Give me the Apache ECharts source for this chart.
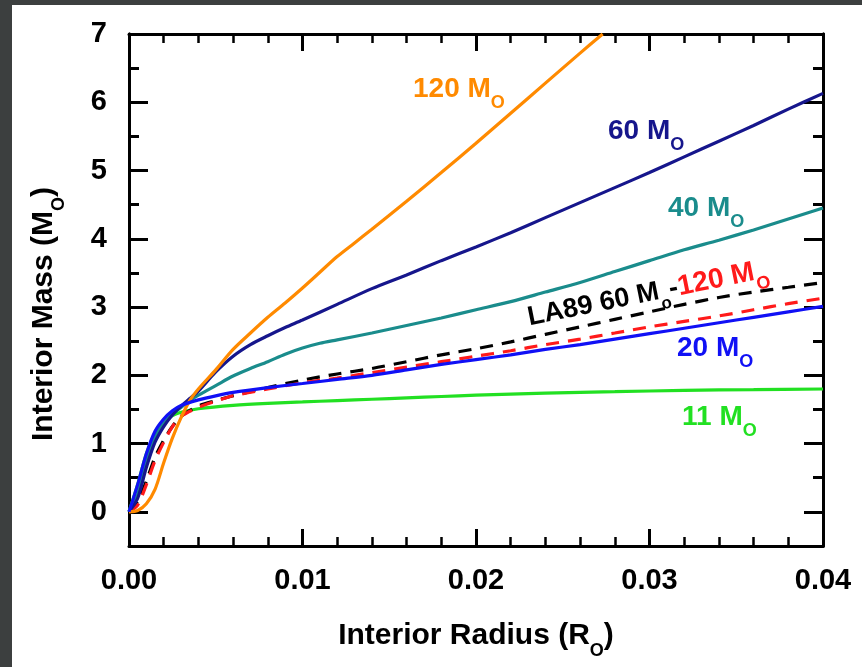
<!DOCTYPE html>
<html><head><meta charset="utf-8">
<script src="https://cdn.jsdelivr.net/npm/echarts@6/dist/echarts.min.js"></script>
<style>html,body{margin:0;padding:0;background:#3c3f3f;}#c{width:862px;height:667px;}</style>
</head><body><div id="c"></div>
<script>
// ---- tick labels ----
const xTickLabels = ['0.00', '0.01', '0.02', '0.03', '0.04'];
const yTickValues = [0, 1, 2, 3, 4, 5, 6, 7];
const yMinorTickValues = [-0.5, 0.5, 1.5, 2.5, 3.5, 4.5, 5.5, 6.5];

// ---- series: interior radius (R_sun) and interior mass (M_sun) ----
const r11 = [0,0.0005,0.001,0.0015,0.002,0.0025,0.003,0.004,0.006,0.008,0.010,0.012,0.014,0.016,0.018,0.020,0.024,0.028,0.032,0.036,0.040];
const m11 = [0,0.4,0.85,1.15,1.32,1.41,1.46,1.51,1.56,1.59,1.61,1.63,1.65,1.67,1.69,1.71,1.74,1.76,1.78,1.79,1.8];

const r20 = [0,0.0005,0.001,0.0015,0.002,0.0025,0.003,0.004,0.005,0.006,0.008,0.010,0.012,0.014,0.016,0.018,0.020,0.022,0.024,0.026,0.028,0.030,0.032,0.034,0.036,0.038,0.040];
const m20 = [0,0.4,0.85,1.18,1.36,1.48,1.56,1.64,1.7,1.75,1.82,1.88,1.94,2.0,2.08,2.16,2.23,2.3,2.38,2.45,2.53,2.61,2.69,2.77,2.85,2.93,3.01];

const r40 = [0,0.0005,0.001,0.0015,0.002,0.0025,0.003,0.0035,0.004,0.005,0.006,0.007,0.008,0.009,0.010,0.011,0.012,0.014,0.016,0.018,0.020,0.022,0.024,0.026,0.028,0.030,0.032,0.034,0.036,0.038,0.040];
const m40 = [0,0.25,0.75,1.1,1.3,1.43,1.53,1.63,1.71,1.85,1.99,2.1,2.2,2.31,2.4,2.47,2.52,2.62,2.73,2.84,2.96,3.08,3.22,3.36,3.52,3.68,3.84,3.98,4.13,4.29,4.45];

const r60 = [0,0.0005,0.001,0.0015,0.002,0.0025,0.003,0.0035,0.004,0.005,0.006,0.007,0.008,0.009,0.010,0.012,0.014,0.016,0.018,0.020,0.022,0.024,0.026,0.028,0.030,0.032,0.034,0.036,0.038,0.040];
const m60 = [0,0.2,0.65,1.02,1.25,1.42,1.55,1.66,1.77,2.05,2.28,2.45,2.58,2.7,2.81,3.04,3.27,3.47,3.68,3.88,4.09,4.31,4.53,4.75,4.97,5.2,5.43,5.66,5.9,6.13];

const r120 = [0,0.0005,0.001,0.0015,0.002,0.0025,0.003,0.0035,0.004,0.005,0.006,0.007,0.008,0.009,0.010,0.011,0.012,0.013,0.014,0.016,0.018,0.020,0.022,0.024,0.026,0.0273];
const m120 = [0,0.02,0.12,0.33,0.72,1.08,1.38,1.63,1.8,2.08,2.38,2.62,2.85,3.06,3.28,3.51,3.74,3.94,4.14,4.55,4.97,5.4,5.84,6.28,6.72,7.0];

// dashed curves share the 20 M_sun radius grid
const rDash = r20;
const m120dash = [0,0.1,0.4,0.75,1.02,1.25,1.4,1.53,1.62,1.7,1.8,1.89,1.96,2.04,2.12,2.2,2.28,2.36,2.45,2.53,2.62,2.71,2.79,2.87,2.96,3.05,3.13];
const mLA89 = [0,0.15,0.45,0.8,1.05,1.25,1.4,1.55,1.63,1.7,1.82,1.93,2.02,2.1,2.2,2.3,2.39,2.49,2.6,2.71,2.82,2.93,3.04,3.14,3.22,3.29,3.36];

const FONT = '"Liberation Sans", Arial, Helvetica, sans-serif';
const zip = (xs, ys) => xs.map((x, i) => [x, ys[i]]);

function line(name, xs, ys, color, dashed) {
  return {
    name, type: 'line', data: zip(xs, ys), showSymbol: false, smooth: 0.3,
    xAxisIndex: 0, yAxisIndex: 0,
    lineStyle: { color, width: 3.2, type: dashed ? [13, 9] : 'solid' }, silent: true
  };
}

function xAx(pos, labels) {
  return {
    type: 'value', position: pos, min: 0, max: 0.04, interval: 0.01,
    axisLine: { show: true, onZero: false, lineStyle: { color: '#000', width: 3 } },
    axisTick: { show: true, inside: true, length: 17, lineStyle: { color: '#000', width: 3 } },
    minorTick: { show: true, splitNumber: 5, length: 9, lineStyle: { color: '#000', width: 2.5 } },
    axisLabel: { show: labels, margin: 20, fontSize: 29, fontWeight: 'bold', color: '#000', fontFamily: FONT,
      formatter: v => xTickLabels[Math.round(v / 0.01)] },
    splitLine: { show: false }
  };
}
function yAx(pos, ticks, len, labels) {
  return {
    type: 'value', position: pos, min: -0.5, max: 7, interval: 0.5,
    axisLine: { show: true, onZero: false, lineStyle: { color: '#000', width: 3 } },
    axisTick: { show: true, inside: true, length: len, customValues: ticks, lineStyle: { color: '#000', width: 3 } },
    axisLabel: { show: labels, customValues: yTickValues, margin: 22, fontSize: 29, fontWeight: 'bold', color: '#000', fontFamily: FONT },
    splitLine: { show: false }
  };
}

function label(x, y, mainTxt, subTxt, color, rot) {
  return {
    type: 'text', x, y, rotation: rot || 0, z: 100,
    style: {
      text: '{m|' + mainTxt + '}{s|' + subTxt + '}', fill: color,
      align: 'left', verticalAlign: 'middle',
      rich: {
        m: { fill: color, fontSize: 28, fontWeight: 'bold', fontFamily: FONT, lineHeight: 46, verticalAlign: 'middle' },
        s: { fill: color, fontSize: 18, fontWeight: 'bold', fontFamily: FONT, lineHeight: 18, verticalAlign: 'bottom' }
      }
    }
  };
}

const chart = echarts.init(document.getElementById('c'), null, { renderer: 'canvas' });
chart.setOption({
  backgroundColor: '#3c3f3f',
  animation: false,
  grid: { left: 129, right: 39, top: 34, bottom: 121, containLabel: false },
  xAxis: [xAx('bottom', true), xAx('top', false)],
  yAxis: [
    yAx('left', yTickValues, 19, true),
    yAx('left', yMinorTickValues, 10, false),
    yAx('right', yTickValues, 19, false),
    yAx('right', yMinorTickValues, 10, false)
  ],
  series: [
    line('11 M', r11, m11, '#22e022', false),
    line('LA89 60 M', rDash, mLA89, '#000000', true),
    line('120 M (dashed)', rDash, m120dash, '#ff1a1a', true),
    line('40 M', r40, m40, '#1a8c8c', false),
    line('60 M', r60, m60, '#16168c', false),
    line('120 M', r120, m120, '#ff8a00', false),
    line('20 M', r20, m20, '#1010f5', false)
  ],
  graphic: [
    { type: 'rect', shape: { x: 12, y: 5, width: 850, height: 662 }, style: { fill: '#ffffff' }, z: -100, silent: true },
    {
      type: 'text', x: 476, y: 636, z: 100,
      style: { text: '{m|Interior Radius (R}{s|O}{m|)}', fill: '#000', align: 'center', verticalAlign: 'middle',
        rich: {
          m: { fill: '#000', fontSize: 30, fontWeight: 'bold', fontFamily: FONT, lineHeight: 48, verticalAlign: 'middle' },
          s: { fill: '#000', fontSize: 18, fontWeight: 'bold', fontFamily: FONT, lineHeight: 18, verticalAlign: 'bottom' }
        } }
    },
    {
      type: 'text', x: 44, y: 314, rotation: Math.PI / 2, z: 100,
      style: { text: '{m|Interior Mass (M}{s|O}{m|)}', fill: '#000', align: 'center', verticalAlign: 'middle',
        rich: {
          m: { fill: '#000', fontSize: 30, fontWeight: 'bold', fontFamily: FONT, lineHeight: 48, verticalAlign: 'middle' },
          s: { fill: '#000', fontSize: 18, fontWeight: 'bold', fontFamily: FONT, lineHeight: 18, verticalAlign: 'bottom' }
        } }
    },
    label(413, 89, '120 M', 'O', '#ff8a00'),
    label(608, 131, '60 M', 'O', '#16168c'),
    label(668, 208, '40 M', 'O', '#1a8c8c'),
    label(677, 348, '20 M', 'O', '#1010f5'),
    label(682, 417, '11 M', 'O', '#22e022'),
    {
      type: 'text', x: 528, y: 318, rotation: 0.2, z: 100,
      style: { text: '{m|LA89 60 M}{s|o}{m|-}{r|120 M}{rs|O}', fill: '#000', align: 'left', verticalAlign: 'middle',
        rich: {
          m: { fill: '#000', fontSize: 27, fontWeight: 'bold', fontFamily: FONT, lineHeight: 44, verticalAlign: 'middle' },
          s: { fill: '#000', fontSize: 17, fontWeight: 'bold', fontFamily: FONT, lineHeight: 17, verticalAlign: 'bottom' },
          r: { fill: '#ff1a1a', fontSize: 28, fontWeight: 'bold', fontFamily: FONT, lineHeight: 44, verticalAlign: 'middle' },
          rs: { fill: '#ff1a1a', fontSize: 18, fontWeight: 'bold', fontFamily: FONT, lineHeight: 18, verticalAlign: 'bottom' }
        } }
    }
  ]
});
</script>
</body></html>
